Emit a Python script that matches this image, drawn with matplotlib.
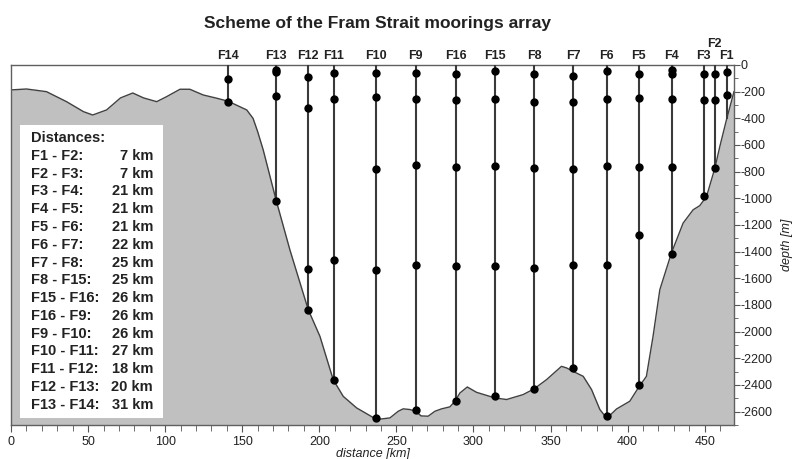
import matplotlib
matplotlib.use('Agg')
import matplotlib.pyplot as plt
from matplotlib.patches import Rectangle
from matplotlib.ticker import MultipleLocator

plt.rcParams['font.family'] = ['Liberation Sans', 'DejaVu Sans']
plt.rcParams['axes.unicode_minus'] = False

# bathymetry profile (distance km, depth m)
bathy_dist = [0, 10, 23, 36, 47, 53, 62, 71, 79, 86, 94.5, 101, 109.6, 116, 124.7,
              133.4, 140.9, 152.9, 157, 160, 163.6, 171.9, 180.9, 192.8, 200.4, 209,
              215.5, 224.2, 237.2, 245.8, 251.2, 254.4, 258.8, 262.6, 266, 270.6,
              275, 279.3, 284.7, 288, 291.2, 296, 302, 313.9, 321.5, 332.2, 339.2,
              347.4, 357.1, 360.4, 365, 371.2, 376.6, 382, 386.5, 392.8, 401.4, 407,
              412.2, 416.5, 420.9, 428.4, 436, 442.5, 446.8, 451.2, 456.6, 459.8,
              464.1, 469]
bathy_depth = [-187, -180, -200, -275, -350, -375, -337, -247, -210, -247, -275, -237,
               -182, -182, -225, -249, -272, -337, -400, -500, -637, -1011, -1386,
               -1835, -2035, -2360, -2485, -2572, -2659, -2647, -2597, -2579, -2584,
               -2597, -2632, -2634, -2597, -2579, -2564, -2522, -2460, -2415, -2455,
               -2497, -2509, -2472, -2430, -2360, -2260, -2272, -2300, -2335, -2434,
               -2584, -2650, -2580, -2522, -2420, -2335, -2035, -1685, -1411, -1186,
               -1086, -1055, -986, -774, -612, -412, -200]

# moorings
names = ['F14', 'F13', 'F12', 'F11', 'F10', 'F9', 'F16', 'F15', 'F8', 'F7', 'F6',
         'F5', 'F4', 'F3', 'F2', 'F1']
mooring_x = [140.7, 171.9, 192.6, 209.5, 236.7, 262.6, 288.6, 313.9, 339.2, 364.5,
             386.5, 407.3, 428.7, 449.4, 456.5, 464.3]
instruments = [
    [-105, -275],
    [-35, -55, -230, -1019],
    [-92, -325, -1530, -1835],
    [-62, -257, -1466, -2365],
    [-57, -242, -779, -1541, -2647],
    [-62, -255, -749, -1503, -2590],
    [-67, -262, -762, -1511, -2522],
    [-43, -255, -757, -1508, -2484],
    [-67, -275, -774, -1523, -2427],
    [-82, -275, -782, -1503, -2272],
    [-45, -255, -757, -1503, -2634],
    [-70, -245, -762, -1273, -2397],
    [-40, -70, -255, -762, -1416],
    [-70, -262, -986],
    [-70, -262, -774],
    [-55, -225],
]
mooring_bottom = [-275, -1019, -1835, -2365, -2647, -2590, -2522, -2484, -2427, -2272,
                  -2634, -2397, -1416, -986, -774, -400]

dist_pairs = ['F1 - F2:', 'F2 - F3:', 'F3 - F4:', 'F4 - F5:', 'F5 - F6:', 'F6 - F7:',
              'F7 - F8:', 'F8 - F15:', 'F15 - F16:', 'F16 - F9:', 'F9 - F10:',
              'F10 - F11:', 'F11 - F12:', 'F12 - F13:', 'F13 - F14:']
dist_km = [7, 7, 21, 21, 21, 22, 25, 25, 26, 26, 26, 27, 18, 20, 31]

fig = plt.figure(figsize=(7.94, 4.59), dpi=100)
ax = fig.add_axes([0.0139, 0.0741, 0.9105, 0.7843])

ymin = -2700
ax.fill_between(bathy_dist, bathy_depth, ymin, color='#c0c0c0', lw=0, zorder=1)
ax.plot(bathy_dist, bathy_depth, color='#404040', lw=1.0, zorder=2)

for name, x, inst, bot in zip(names, mooring_x, instruments, mooring_bottom):
    ax.plot([x, x], [0, bot], color='#3a3a3a', lw=1.5, zorder=3)
    ax.plot([x] * len(inst), inst, 'o', color='black', ms=5, zorder=4)
    dy = 11 if name == 'F2' else 2
    ax.annotate(name, (x, 0), xytext=(0, dy), textcoords='offset points',
                ha='center', va='bottom', fontsize=9, fontweight='bold',
                color='#222222', annotation_clip=False)

# distances box
ax.add_patch(Rectangle((0.0124, 0.0194), 0.1974, 0.814, transform=ax.transAxes,
                       facecolor='white', edgecolor='none', zorder=5))
y0 = 0.797
step = 0.0494
ax.text(0.0277, y0, 'Distances:', transform=ax.transAxes, fontsize=10.5,
        fontweight='bold', color='#222222', va='center', zorder=6)
for i, (pair, km) in enumerate(zip(dist_pairs, dist_km)):
    yy = y0 - step * (i + 1)
    ax.text(0.0277, yy, pair, transform=ax.transAxes, fontsize=10.5,
            fontweight='bold', color='#222222', va='center', zorder=6)
    ax.text(0.1964, yy, f'{km} km', transform=ax.transAxes, fontsize=10.5,
            fontweight='bold', color='#222222', va='center', ha='right', zorder=6)

ax.set_xlim(0, 469)
ax.set_ylim(ymin, 0)
ax.xaxis.set_major_locator(MultipleLocator(50))
ax.xaxis.set_minor_locator(MultipleLocator(10))
ax.yaxis.set_major_locator(MultipleLocator(200))
ax.yaxis.set_minor_locator(MultipleLocator(100))
ax.yaxis.tick_right()
ax.yaxis.set_label_position('right')
ax.tick_params(axis='both', which='both', direction='out', color='#555555',
               labelcolor='#222222', labelsize=9)
ax.tick_params(axis='x', which='major', length=5, pad=3)
ax.tick_params(axis='x', which='minor', length=4)
ax.tick_params(axis='y', which='major', length=4, pad=1)
ax.tick_params(axis='y', which='minor', length=3)
for s in ax.spines.values():
    s.set_color('#606060')
    s.set_linewidth(1.0)

ax.set_xlabel('distance [km]', fontsize=9, style='italic', color='#222222', labelpad=0)
ax.set_ylabel('depth [m]', fontsize=9, style='italic', color='#222222', rotation=90,
              labelpad=6)

fig.text(0.476, 0.949, 'Scheme of the Fram Strait moorings array', ha='center',
         va='center', fontsize=12.5, fontweight='bold', color='#222222')

fig.savefig('out.png', dpi=100)
